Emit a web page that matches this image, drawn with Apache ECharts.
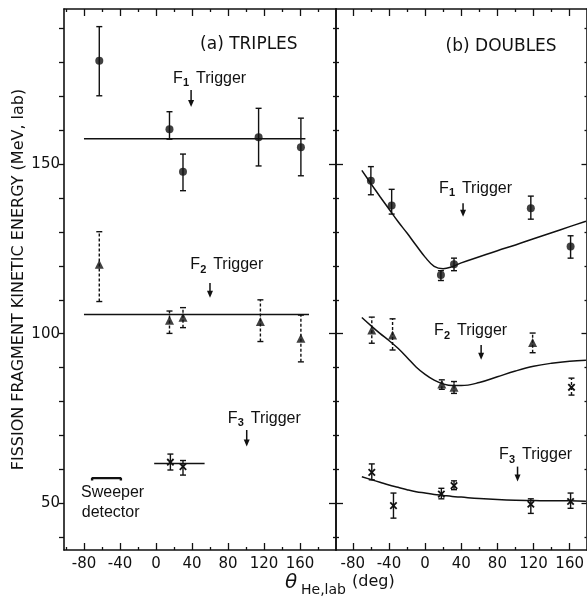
<!DOCTYPE html>
<html><head><meta charset="utf-8">
<script src="https://cdn.jsdelivr.net/npm/echarts@6/dist/echarts.min.js"></script>
<style>html,body{margin:0;padding:0;background:#fff}#c{width:587px;height:605px}</style>
</head><body><div id="c"></div>
<script>
// ---------- data ----------
const xMajor = [-80, -40, 0, 40, 80, 120, 160];
const xMinor = [-100, -60, -20, 20, 60, 100, 140, 180];
const yMajor = [50, 100, 150];
const yMinor = [40, 60, 70, 80, 90, 110, 120, 130, 140, 160, 170, 180, 190];

// (a) TRIPLES : [angle, energy, bar low, bar high]
const triplesF1 = [[-63, 180.5, 170.2, 190.6], [15, 160.3, 157.4, 165.5], [30, 147.8, 142.2, 153.0], [114, 158.0, 149.5, 166.5], [161, 155.0, 146.6, 163.6]];
const triplesF2 = [[-63, 120.5, 109.5, 130.1], [15, 104.0, 100.1, 106.7], [30, 104.9, 101.8, 107.7], [116, 103.6, 97.7, 110.0], [161, 98.7, 91.7, 105.5]];
const triplesF3 = [[16, 62.1, 59.8, 64.5], [30, 60.8, 58.3, 62.6]];
const triplesFitF1 = [[-80, 157.5], [166, 157.5]];
const triplesFitF2 = [[-80, 105.7], [170, 105.7]];
const triplesFitF3 = [[-2, 61.7], [54, 61.7]];
const sweeperRange = [[-71, 56.7], [-71, 57.4], [-39, 57.4], [-39, 56.7]];

// (b) DOUBLES
const doublesF1 = [[-60, 145.1, 141.0, 149.3], [-37, 137.8, 135.3, 142.6], [17.5, 117.3, 115.7, 118.6], [32, 120.5, 118.6, 122.3], [117, 137.0, 133.8, 140.6], [161, 125.7, 122.3, 128.9]];
const doublesF2 = [[-59, 101.1, 97.2, 104.9], [-36, 99.6, 95.2, 104.4], [18.5, 85.2, 83.6, 86.4], [32, 84.2, 82.4, 85.9], [119, 97.4, 94.4, 100.2]];
const doublesF2x = [[162, 84.2, 81.9, 86.9]];
const doublesF3 = [[-59, 59.1, 56.9, 61.6], [-35, 49.3, 45.6, 53.0], [18, 52.7, 51.3, 54.4], [32, 55.2, 54.0, 56.6], [117, 49.7, 47.0, 51.3], [161, 50.5, 48.5, 53.0]];
const curveAngles = [-70, -60, -50, -40, -30, -20, -10, 0, 10, 20, 30, 40, 60, 80, 100, 120, 140, 160, 178];
const doublesCurveF1 = [148.2, 144.3, 140.5, 136.8, 133.1, 129.7, 126.1, 122.6, 119.9, 119.2, 119.8, 120.9, 122.7, 124.5, 126.2, 128.0, 129.8, 131.6, 133.2];
const doublesCurveF2 = [104.8, 102.4, 100.1, 98.0, 95.7, 93.0, 90.2, 88.0, 86.3, 85.2, 84.7, 84.7, 85.6, 87.3, 89.0, 90.4, 91.3, 91.9, 92.2];
const doublesCurveF3 = [57.8, 57.0, 56.2, 55.4, 54.7, 54.0, 53.4, 53.0, 52.6, 52.3, 52.0, 51.8, 51.4, 51.1, 50.9, 50.8, 50.7, 50.7, 50.6];

// annotations (data coordinates)
const subscripts = ['1', '2', '3'];
const triplesTriggers = [[19, 175.4, 0], [38, 120.3, 1], [79.7, 75.1, 2]];
const triplesArrows = [[39, 171.9, 166.9], [60, 115.0, 110.6], [100.8, 71.6, 66.7]];
const doublesTriggers = [[15.3, 142.9, 0], [9.9, 100.9, 1], [81.8, 64.2, 2]];
const doublesArrows = [[42, 138.5, 134.5], [62, 96.7, 92.3], [102.3, 60.8, 56.4]];
const triplesTexts = ['(a) TRIPLES', 'Sweeper', 'detector'];
const triplesTextPos = [[49, 185.2, 0], [-83.3, 53.0, 1], [-82.5, 47.3, 2]];
const doublesTexts = ['(b) DOUBLES'];
const doublesTextPos = [[22.7, 184.7, 0]];

const yTitle = 'FISSION FRAGMENT KINETIC ENERGY (MeV, lab)';

// ---------- styling ----------
const ink = '#111';
const FONT = 'DejaVu Sans';
const LFONT = 'Liberation Sans';
const yMin = 36.2, yMax = 195.8;
const panels = [{min: -102.2, max: 200}, {min: -98.6, max: 178.6}];
const line = {color: ink, width: 1.6};
const thin = {color: ink, width: 1.3};

function inRange(v, p) { return v.filter(x => x > p.min + 0.5 && x < p.max - 0.5); }

const xAxis = [];
panels.forEach((p, gi) => {
  const base = {gridIndex: gi, type: 'value', min: p.min, max: p.max, splitLine: {show: false}};
  xAxis.push(Object.assign({}, base, {position: 'bottom', axisLine: {show: true, onZero: false, lineStyle: line},
    axisTick: {show: true, inside: true, length: 7, customValues: inRange(xMajor, p), lineStyle: thin},
    axisLabel: {show: true, customValues: xMajor, margin: 7, fontSize: 15, fontFamily: FONT, color: ink}}));
  xAxis.push(Object.assign({}, base, {position: 'bottom', axisLine: {show: false, onZero: false},
    axisTick: {show: true, inside: true, length: 3, customValues: inRange(xMinor, p), lineStyle: thin}, axisLabel: {show: false}}));
  xAxis.push(Object.assign({}, base, {position: 'top', axisLine: {show: true, onZero: false, lineStyle: line},
    axisTick: {show: true, inside: true, length: 7, customValues: inRange(xMajor, p), lineStyle: thin}, axisLabel: {show: false}}));
  xAxis.push(Object.assign({}, base, {position: 'top', axisLine: {show: false, onZero: false},
    axisTick: {show: true, inside: true, length: 3, customValues: inRange(xMinor, p), lineStyle: thin}, axisLabel: {show: false}}));
});

const yBase = {type: 'value', min: yMin, max: yMax, splitLine: {show: false}};
const allY = yMajor.concat(yMinor);
const yAxis = [
  Object.assign({}, yBase, {gridIndex: 0, position: 'left', axisLine: {show: true, onZero: false, lineStyle: line},
    axisTick: {show: true, inside: false, length: 5, customValues: allY, lineStyle: thin},
    axisLabel: {show: true, customValues: yMajor, margin: 4, fontSize: 15, fontFamily: FONT, color: ink},
    name: yTitle, nameLocation: 'middle', nameGap: 37, nameRotate: 90,
    nameTextStyle: {fontSize: 16, fontFamily: FONT, color: ink}}),
  Object.assign({}, yBase, {gridIndex: 0, position: 'right', axisLine: {show: true, onZero: false, lineStyle: line},
    axisTick: {show: true, inside: true, length: 7, customValues: yMajor, lineStyle: thin}, axisLabel: {show: false}}),
  Object.assign({}, yBase, {gridIndex: 0, position: 'right', axisLine: {show: false, onZero: false},
    axisTick: {show: true, inside: true, length: 3, customValues: yMinor, lineStyle: thin}, axisLabel: {show: false}}),
  Object.assign({}, yBase, {gridIndex: 1, position: 'left', axisLine: {show: true, onZero: false, lineStyle: line},
    axisTick: {show: true, inside: true, length: 7, customValues: yMajor, lineStyle: thin}, axisLabel: {show: false}}),
  Object.assign({}, yBase, {gridIndex: 1, position: 'left', axisLine: {show: false, onZero: false},
    axisTick: {show: true, inside: true, length: 3, customValues: yMinor, lineStyle: thin}, axisLabel: {show: false}}),
  Object.assign({}, yBase, {gridIndex: 1, position: 'right', axisLine: {show: true, onZero: false, lineStyle: line},
    axisTick: {show: true, inside: true, length: 5, customValues: yMajor, lineStyle: thin}, axisLabel: {show: false}}),
  Object.assign({}, yBase, {gridIndex: 1, position: 'right', axisLine: {show: false, onZero: false},
    axisTick: {show: true, inside: true, length: 2, customValues: yMinor, lineStyle: thin}, axisLabel: {show: false}})
];

const AX = [{x: 0, y: 0}, {x: 4, y: 3}];

function lineSeries(g, data, smooth, width) {
  return {type: 'line', xAxisIndex: AX[g].x, yAxisIndex: AX[g].y, data: data, smooth: smooth, showSymbol: false, symbol: 'none',
    lineStyle: {color: ink, width: width || 1.5}, silent: true, z: 2};
}
function curve(angles, vals) { return angles.map((a, i) => [a, vals[i]]); }

function barSeries(g, data, dashed, cross) {
  return {type: 'custom', xAxisIndex: AX[g].x, yAxisIndex: AX[g].y, data: data, silent: true, clip: false, z: 3,
    encode: {x: 0, y: 1},
    renderItem: function (params, api) {
      const x = api.value(0);
      const c = api.coord([x, api.value(1)]);
      const a = api.coord([x, api.value(2)]);
      const b = api.coord([x, api.value(3)]);
      const st = {stroke: ink, lineWidth: 1.4, lineDash: dashed ? [3, 2] : null};
      const cs = {stroke: ink, lineWidth: 1.4};
      const ch = [
        {type: 'line', shape: {x1: a[0], y1: a[1], x2: b[0], y2: b[1]}, style: st},
        {type: 'line', shape: {x1: a[0] - 3, y1: a[1], x2: a[0] + 3, y2: a[1]}, style: cs},
        {type: 'line', shape: {x1: b[0] - 3, y1: b[1], x2: b[0] + 3, y2: b[1]}, style: cs}
      ];
      if (cross) {
        const s = 3.2;
        ch.push({type: 'line', shape: {x1: c[0] - s, y1: c[1] - s, x2: c[0] + s, y2: c[1] + s}, style: {stroke: ink, lineWidth: 1.8}});
        ch.push({type: 'line', shape: {x1: c[0] - s, y1: c[1] + s, x2: c[0] + s, y2: c[1] - s}, style: {stroke: ink, lineWidth: 1.8}});
      }
      return {type: 'group', children: ch};
    }};
}
function markerSeries(g, data, symbol, size) {
  return {type: 'scatter', xAxisIndex: AX[g].x, yAxisIndex: AX[g].y, data: data.map(d => [d[0], d[1]]),
    symbol: symbol, symbolSize: size, itemStyle: {color: ink}, silent: true, z: 4};
}
function triggerSeries(g, data) {
  return {type: 'custom', xAxisIndex: AX[g].x, yAxisIndex: AX[g].y, data: data, silent: true, clip: false, z: 5,
    encode: {x: 0, y: 1},
    renderItem: function (params, api) {
      const c = api.coord([api.value(0), api.value(1)]);
      const sub = subscripts[api.value(2)];
      return {type: 'group', children: [
        {type: 'text', x: c[0], y: c[1], style: {text: 'F', font: '16px "' + LFONT + '"', fill: ink, align: 'left', verticalAlign: 'middle'}},
        {type: 'text', x: c[0] + 10, y: c[1] + 5, style: {text: sub, font: 'bold 11px "' + LFONT + '"', fill: ink, align: 'left', verticalAlign: 'middle'}},
        {type: 'text', x: c[0] + 23, y: c[1], style: {text: 'Trigger', font: '16px "' + LFONT + '"', fill: ink, align: 'left', verticalAlign: 'middle'}}
      ]};
    }};
}
function arrowSeries(g, data) {
  return {type: 'custom', xAxisIndex: AX[g].x, yAxisIndex: AX[g].y, data: data, silent: true, clip: false, z: 5,
    encode: {x: 0, y: 1},
    renderItem: function (params, api) {
      const x = api.value(0);
      const t = api.coord([x, api.value(1)]);
      const b = api.coord([x, api.value(2)]);
      return {type: 'group', children: [
        {type: 'line', shape: {x1: t[0], y1: t[1], x2: b[0], y2: b[1] - 4}, style: {stroke: ink, lineWidth: 1.5}},
        {type: 'polygon', shape: {points: [[b[0] - 3, b[1] - 7], [b[0] + 3, b[1] - 7], [b[0], b[1]]]}, style: {fill: ink}}
      ]};
    }};
}
function textSeries(g, data, names, font) {
  return {type: 'custom', xAxisIndex: AX[g].x, yAxisIndex: AX[g].y, data: data, silent: true, clip: false, z: 5,
    encode: {x: 0, y: 1},
    renderItem: function (params, api) {
      const c = api.coord([api.value(0), api.value(1)]);
      const i = api.value(2);
      return {type: 'text', x: c[0], y: c[1], style: {text: names[i], font: font[i], fill: ink, align: 'left', verticalAlign: 'middle'}};
    }};
}

const series = [
  lineSeries(0, triplesFitF1, false),
  lineSeries(0, triplesFitF2, false),
  lineSeries(0, triplesFitF3, false),
  lineSeries(0, sweeperRange, false, 2.4),
  barSeries(0, triplesF1, false, false),
  markerSeries(0, triplesF1, 'circle', 8),
  barSeries(0, triplesF2, true, false),
  markerSeries(0, triplesF2, 'triangle', 9),
  barSeries(0, triplesF3, false, true),
  triggerSeries(0, triplesTriggers),
  arrowSeries(0, triplesArrows),
  textSeries(0, triplesTextPos, triplesTexts, ['17px "' + FONT + '"', '16px "' + LFONT + '"', '16px "' + LFONT + '"']),

  lineSeries(1, curve(curveAngles, doublesCurveF1), 0.4),
  lineSeries(1, curve(curveAngles, doublesCurveF2), 0.4),
  lineSeries(1, curve(curveAngles, doublesCurveF3), 0.4),
  barSeries(1, doublesF1, false, false),
  markerSeries(1, doublesF1, 'circle', 8),
  barSeries(1, doublesF2, true, false),
  markerSeries(1, doublesF2, 'triangle', 9),
  barSeries(1, doublesF2x, true, true),
  barSeries(1, doublesF3, false, true),
  triggerSeries(1, doublesTriggers),
  arrowSeries(1, doublesArrows),
  textSeries(1, doublesTextPos, doublesTexts, ['17px "' + FONT + '"'])
];

const chart = echarts.init(document.getElementById('c'), null, {renderer: 'canvas'});
chart.setOption({
  animation: false,
  backgroundColor: '#fff',
  grid: [
    {left: 64, top: 9, width: 272, height: 541, containLabel: false},
    {left: 336, top: 9, width: 253, height: 541, containLabel: false}
  ],
  xAxis: xAxis,
  yAxis: yAxis,
  series: series,
  graphic: [
    {type: 'text', left: 285, top: 573, style: {text: 'θ', font: 'italic 20px "' + FONT + '"', fill: ink}},
    {type: 'text', left: 301, top: 583, style: {text: 'He,lab', font: '14px "' + FONT + '"', fill: ink}},
    {type: 'text', left: 352, top: 574, style: {text: '(deg)', font: '16px "' + FONT + '"', fill: ink}}
  ]
});
</script>
</body></html>
